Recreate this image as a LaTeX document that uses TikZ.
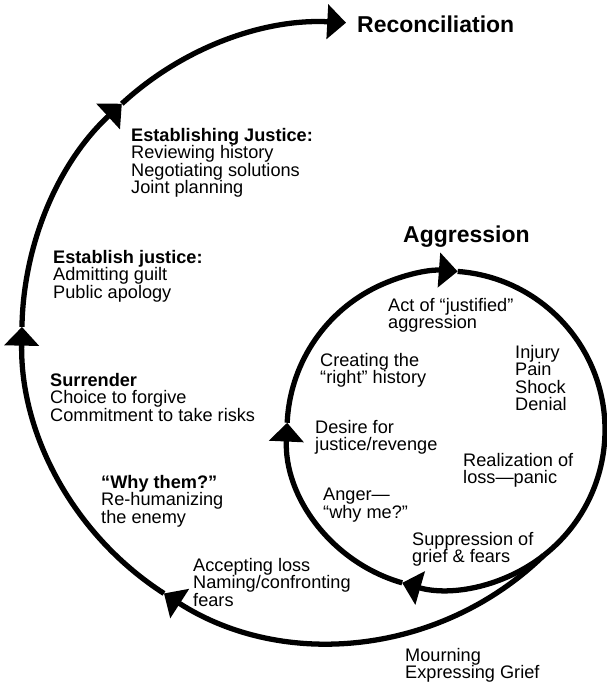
\documentclass[tikz,border=0pt]{standalone}
\usepackage{fontspec}
\setmainfont{Liberation Sans}
\usetikzlibrary{arrows.meta}

\tikzset{
  spiral/.style={line width=4.5pt, black},
  tri/.style={-{Triangle[length=16pt,width=29pt]}},
  stage/.style={anchor=north west, align=left, inner sep=0pt, font=\fontsize{15.5}{14.9}\selectfont},
  title/.style={anchor=base west, inner sep=0pt, font=\fontsize{19.6}{22}\selectfont\bfseries}
}

\begin{document}
\begin{tikzpicture}[x=0.03cm, y=0.03cm]
\useasboundingbox (0,0) rectangle (606,682);

% inner cycle
\coordinate (I) at (446,252);
\foreach \a/\b in {-52/-106, -106/-182.6, -182.6/-274.2}
  \draw[spiral, tri] (I) ++(\a:159) arc[start angle=\a, end angle=\b, radius=159];
\draw[spiral] (I) ++(-274.2:159) arc[start angle=-274.2, end angle=-412, radius=159];

% way out
\coordinate (O) at (329.9,349.7);
\foreach \a/\b in {-46/-122.6, -122.6/-181, -181/-227.5, -227.5/-273}
  \draw[spiral, tri] (O) ++(\a:308 and 310) arc[start angle=\a, end angle=\b, x radius=308, y radius=310];

\node[title] (recon) at (357,649) {Reconciliation};
\node[title] (aggr) at (403,439) {Aggression};

\node[stage] (review) at (131,554) {\textbf{Establishing Justice:}\\Reviewing history\\Negotiating solutions\\Joint planning};
\node[stage] (apology) at (53,432) {\textbf{Establish justice:}\\Admitting guilt\\Public apology};
\node[stage] (surrender) at (50,309) {\textbf{Surrender}\\Choice to forgive\\Commitment to take risks};
\node[stage] (whythem) at (101,207) {\textbf{“Why them?”}\\Re-humanizing\\the enemy};
\node[stage] (accept) at (193,124) {Accepting loss\\Naming/confronting\\fears};
\node[stage] (mourn) at (405,34) {Mourning\\Expressing Grief};

\node[stage] (act) at (388,384) {Act of “justified”\\aggression};
\node[stage] (history) at (320,329) {Creating the\\“right” history};
\node[stage] (injury) at (515,337) {Injury\\Pain\\Shock\\Denial};
\node[stage] (desire) at (315,262) {Desire for\\justice/revenge};
\node[stage] (panic) at (463,229) {Realization of\\loss—panic};
\node[stage] (anger) at (323,194) {Anger—\\“why me?”};
\node[stage] (suppress) at (412,150) {Suppression of\\grief \& fears};
\end{tikzpicture}
\end{document}
